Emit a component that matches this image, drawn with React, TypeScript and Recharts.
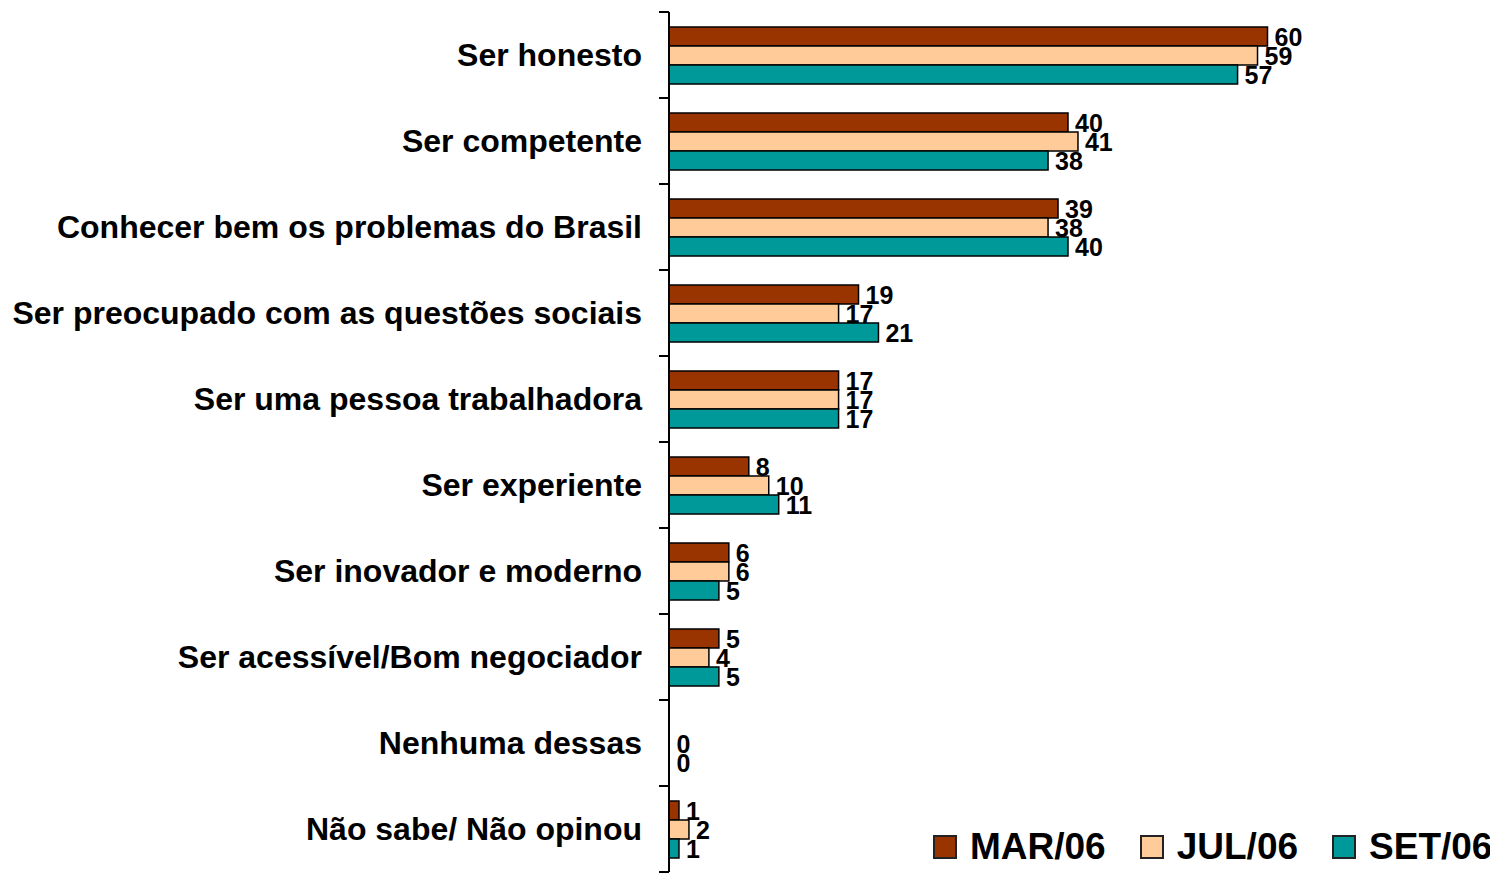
import React from 'react';
import { BarChart, Bar, XAxis, YAxis, LabelList, Cell } from 'recharts';

const categories = [
  'Ser honesto',
  'Ser competente',
  'Conhecer bem os problemas do Brasil',
  'Ser preocupado com as questões sociais',
  'Ser uma pessoa trabalhadora',
  'Ser experiente',
  'Ser inovador e moderno',
  'Ser acessível/Bom negociador',
  'Nenhuma dessas',
  'Não sabe/ Não opinou',
];

const mar06 = [60, 40, 39, 19, 17, 8, 6, 5, 0, 1];
const jul06 = [59, 41, 38, 17, 17, 10, 6, 4, 0, 2];
const set06 = [57, 38, 40, 21, 17, 11, 5, 5, 0, 1];

const series = [
  { key: 'mar', name: 'MAR/06', color: '#993300', values: mar06 },
  { key: 'jul', name: 'JUL/06', color: '#FFCC99', values: jul06 },
  { key: 'set', name: 'SET/06', color: '#009999', values: set06 },
];

const data = categories.map((name, i) => ({
  name,
  mar: mar06[i],
  jul: jul06[i],
  set: set06[i],
}));

const FONT = 'Arial, "Liberation Sans", sans-serif';
const HALF_BAND = 43;

const CategoryTick = (props: any) => {
  const { x, y, payload, index } = props;
  return (
    <g>
      <line x1={x - 10} x2={x} y1={y - HALF_BAND} y2={y - HALF_BAND} stroke="#000" strokeWidth={2} />
      {index === categories.length - 1 && (
        <line x1={x - 10} x2={x} y1={y + HALF_BAND} y2={y + HALF_BAND} stroke="#000" strokeWidth={2} />
      )}
      <text
        x={x - 27}
        y={y}
        textAnchor="end"
        dominantBaseline="central"
        fontFamily={FONT}
        fontWeight="bold"
        fontSize={32}
        fill="#000"
      >
        {payload.value}
      </text>
    </g>
  );
};

const makeValueLabel = (hideZero: boolean) => (props: any) => {
  const { x, y, width, height, value } = props;
  if (hideZero && value === 0) return null;
  return (
    <text
      x={x + Math.max(width, 0) + 7}
      y={y + height / 2}
      dominantBaseline="central"
      fontFamily={FONT}
      fontWeight="bold"
      fontSize={25}
      fill="#000"
    >
      {value}
    </text>
  );
};

const ChartLegend = () => (
  <div
    style={{
      position: 'absolute',
      left: 925,
      top: 819,
      display: 'flex',
      alignItems: 'center',
      fontFamily: FONT,
    }}
  >
    {series.map((s) => (
      <div key={s.key} style={{ display: 'flex', alignItems: 'center', marginRight: 34 }}>
        <div
          style={{
            width: 20,
            height: 20,
            background: s.color,
            border: '2px solid #222',
            marginRight: 13,
          }}
        />
        <span style={{ fontSize: 37, fontWeight: 'bold', color: '#000', lineHeight: '40px' }}>
          {s.name}
        </span>
      </div>
    ))}
  </div>
);

export default function App() {
  return (
    <div style={{ width: 1490, height: 865, background: '#fff', position: 'relative' }}>
      <BarChart
        width={1490}
        height={865}
        data={data}
        layout="vertical"
        margin={{ top: 4, right: 31, bottom: 1, left: 0 }}
        barSize={19}
        barGap={0}
      >
        <XAxis type="number" domain={[0, 80]} hide />
        <YAxis
          type="category"
          dataKey="name"
          width={661}
          axisLine={{ stroke: '#000', strokeWidth: 2 }}
          tickLine={false}
          tickSize={0}
          tickMargin={0}
          tick={<CategoryTick />}
          interval={0}
        />
        {series.map((s, i) => (
          <Bar
            key={s.key}
            dataKey={s.key}
            name={s.name}
            fill={s.color}
            stroke="#000"
            strokeWidth={1.5}
            minPointSize={(v: number) => (v === 0 ? 0.5 : 0)}
            isAnimationActive={false}
          >
            {s.values.map((v, j) => (
              <Cell key={j} stroke={v === 0 ? 'none' : '#000'} />
            ))}
            <LabelList dataKey={s.key} content={makeValueLabel(i === 0)} />
          </Bar>
        ))}
      </BarChart>
      <ChartLegend />
    </div>
  );
}
